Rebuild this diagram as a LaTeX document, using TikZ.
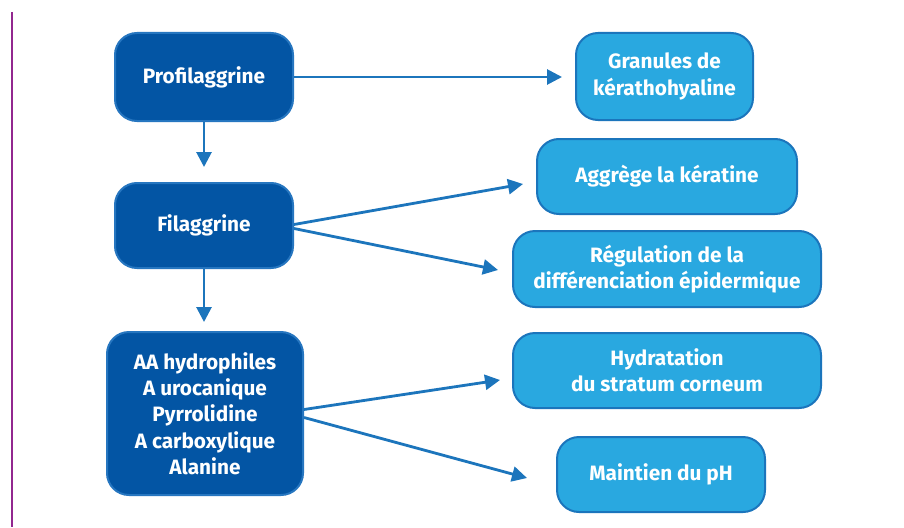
\documentclass[tikz,border=0pt]{standalone}
\usepackage{fontspec}
\setmainfont{Fira Sans}
\usetikzlibrary{arrows.meta,calc}
\definecolor{darkbox}{RGB}{3,85,164}
\definecolor{darkedge}{RGB}{38,118,192}
\definecolor{lightbox}{RGB}{41,168,224}
\definecolor{lightedge}{RGB}{27,117,188}
\definecolor{arrowc}{RGB}{28,117,188}
\definecolor{purpleline}{RGB}{146,39,143}
\begin{document}
\begin{tikzpicture}[x=1pt,y=-1pt,
  basebox/.style={rectangle, rounded corners=22pt, line width=2pt, text=white,
    font=\bfseries\fontsize{20.8}{26.3}\selectfont, align=center, inner sep=0pt},
  dbox/.style={basebox, fill=darkbox, draw=darkedge},
  lbox/.style={basebox, fill=lightbox, draw=lightedge},
  conn/.style={draw=arrowc, line width=2.8pt, -{Triangle[length=15pt,width=15pt]}}]
\useasboundingbox (0,0) rectangle (904,527);
\fill[white] (0,0) rectangle (904,527);
\draw[purpleline, line width=2.2pt] (12,12) -- (12,527);

\node[dbox, minimum width=178pt, minimum height=88pt] (pro) at (204,77) {Profilaggrine};
\node[dbox, minimum width=178pt, minimum height=85pt] (fil) at (204,225.5) {Filaggrine};
\node[dbox, minimum width=196pt, minimum height=163pt] (aa) at (205,413.5)
  {AA hydrophiles\\A urocanique\\Pyrrolidine\\A carboxylique\\Alanine};

\node[lbox, minimum width=177pt, minimum height=87pt] (gra) at (664.5,76.5) {Granules de\\kérathohyaline};
\node[lbox, minimum width=260pt, minimum height=75pt] (agg) at (667,176.5) {Aggrège la kératine};
\node[lbox, minimum width=308pt, minimum height=76pt] (reg) at (667,269) {Régulation de la\\différenciation épidermique};
\node[lbox, minimum width=308pt, minimum height=75pt] (hyd) at (667,370.5) {Hydratation\\du stratum corneum};
\node[lbox, minimum width=208pt, minimum height=75pt] (mai) at (661,474.5) {Maintien du pH};

\coordinate (t1) at (562,77);
\coordinate (t2) at (204,167);
\coordinate (t3) at (204,322);
\coordinate (t4) at (523,184);
\coordinate (t5) at (498,270);
\coordinate (t6) at (500,380);
\coordinate (t7) at (527,478);

\draw[conn] (pro.east) -- (t1);
\draw[conn] (pro.south) -- (t2);
\draw[conn] (fil.south) -- (t3);
\draw[conn] ($(fil.east)+(0,-1)$) -- (t4);
\draw[conn] ($(fil.east)+(0,3)$) -- (t5);
\draw[conn] ($(aa.east)+(0,-4)$) -- (t6);
\draw[conn] ($(aa.east)+(0,4)$) -- (t7);
\end{tikzpicture}
\end{document}
